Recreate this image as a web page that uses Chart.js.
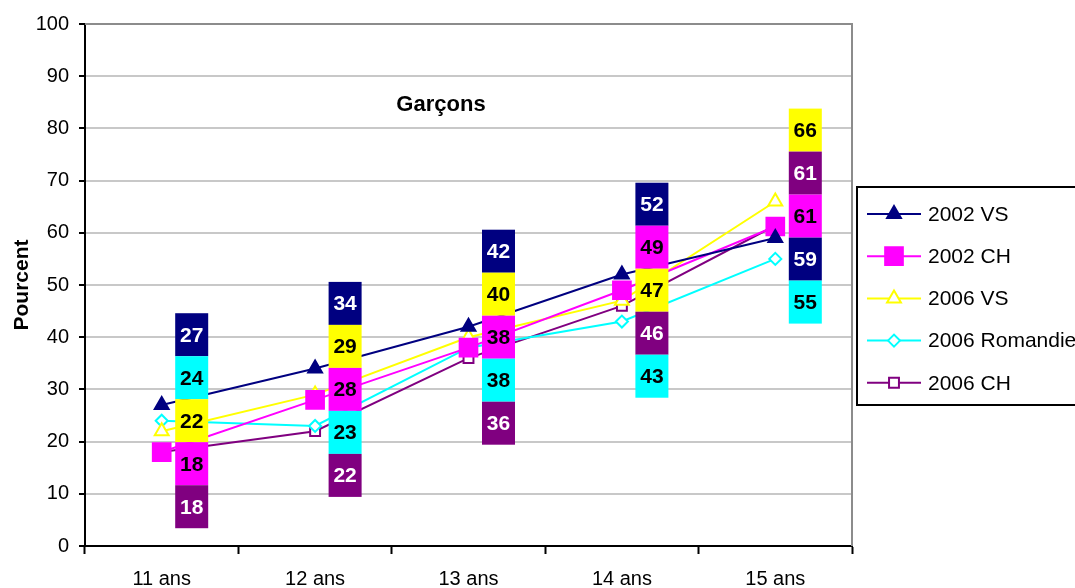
<!DOCTYPE html>
<html>
<head>
<meta charset="utf-8">
<script src="https://cdn.jsdelivr.net/npm/chart.js@4"></script>
<style>
  body { margin: 0; background: #fff; }
  #wrap { width: 1075px; height: 588px; }
</style>
</head>
<body>
<div id="wrap"><canvas id="chart"></canvas></div>
<script>
const ages = ["11 ans", "12 ans", "13 ans", "14 ans", "15 ans"];
const seriesNames = ["2002 VS", "2002 CH", "2006 VS", "2006 Romandie", "2006 CH"];
const vs2002 = [27, 34, 42, 52, 59];
const ch2002 = [18, 28, 38, 49, 61.2];
const vs2006 = [22, 29, 40, 47, 66];
const romandie2006 = [24, 23, 38, 43, 55];
const ch2006 = [18, 22, 36, 46, 61.4];
const yTicks = [0, 10, 20, 30, 40, 50, 60, 70, 80, 90, 100];

const FONT = "'Liberation Sans', Arial, sans-serif";

const looks = [
    {color: "#000080", fill: "#000080", style: "triangle", radius: 8, text: "#fff"},
    {color: "#FF00FF", fill: "#FF00FF", style: "rect", radius: 12.5, text: "#000"},
    {color: "#FFFF00", fill: "#fff", style: "triangle", radius: 8, text: "#000"},
    {color: "#00FFFF", fill: "#fff", style: "rectRot", radius: 6, text: "#000"},
    {color: "#800080", fill: "#fff", style: "rect", radius: 7, text: "#fff"}
];

const allSeries = [vs2002, ch2002, vs2006, romandie2006, ch2006];

const datasets = allSeries.map((data, i) => ({
    label: seriesNames[i],
    data: data,
    borderColor: looks[i].color,
    backgroundColor: looks[i].fill,
    borderWidth: 2,
    pointStyle: looks[i].style,
    pointRadius: looks[i].radius,
    pointBorderWidth: 2,
    pointBorderColor: looks[i].color,
    pointBackgroundColor: looks[i].fill,
    tension: 0
}));

// frame on top/right, title, value boxes and legend
const decor = {
    id: "decor",
    beforeDatasetsDraw(chart) {
        const {ctx, chartArea: a} = chart;
        ctx.save();
        ctx.strokeStyle = "#8c8c8c";
        ctx.lineWidth = 2;
        ctx.beginPath();
        ctx.moveTo(a.left, a.top);
        ctx.lineTo(a.right, a.top);
        ctx.lineTo(a.right, a.bottom);
        ctx.stroke();
        ctx.restore();
    },
    afterDatasetsDraw(chart) {
        const {ctx, chartArea: a} = chart;
        const xs = chart.scales.x, ys = chart.scales.y;
        ctx.save();
        ctx.font = "bold 22px " + FONT;
        ctx.fillStyle = "#000";
        ctx.textAlign = "center";
        ctx.textBaseline = "middle";
        ctx.fillText("Garçons", a.left + 356, a.top + 81);

        const boxW = 33, boxH = 43;
        ctx.font = "bold 21px " + FONT;
        ages.forEach((_, i) => {
            const items = allSeries.map((s, k) => ({k, v: s[i]}))
                .sort((p, q) => q.v - p.v);
            const mid = items[2].v;
            const cy = ys.getPixelForValue(mid + 2);
            const cx = xs.getPixelForValue(i) + 30;
            items.forEach((it, j) => {
                const top = cy - 2.5 * boxH + j * boxH;
                ctx.fillStyle = looks[it.k].color;
                ctx.fillRect(cx - boxW / 2, top, boxW, boxH);
                ctx.fillStyle = looks[it.k].text;
                ctx.fillText(String(Math.round(it.v)), cx, top + boxH / 2 + 1);
            });
        });
        ctx.restore();
    },
    afterDraw(chart) {
        const ctx = chart.ctx;
        ctx.save();
        ctx.strokeStyle = "#000";
        ctx.lineWidth = 2;
        ctx.strokeRect(857, 187, 240, 218);
        ctx.font = "21px " + FONT;
        ctx.textAlign = "left";
        ctx.textBaseline = "middle";
        seriesNames.forEach((name, i) => {
            const y = 214 + i * 42.2;
            const lk = looks[i];
            ctx.strokeStyle = lk.color;
            ctx.lineWidth = 2;
            ctx.beginPath();
            ctx.moveTo(867, y);
            ctx.lineTo(921, y);
            ctx.stroke();
            ctx.fillStyle = lk.fill;
            Chart.helpers.drawPoint(ctx, {pointStyle: lk.style, radius: lk.radius, rotation: 0, borderWidth: 2}, 894, y);
            ctx.fillStyle = "#000";
            ctx.fillText(name, 928, y + 1);
        });
        ctx.restore();
    }
};

new Chart(document.getElementById("chart"), {
    type: "line",
    data: {labels: ages, datasets: datasets},
    options: {
        responsive: true,
        maintainAspectRatio: false,
        animation: false,
        layout: {padding: {left: 10, right: 223, top: 24, bottom: 0}},
        plugins: {legend: {display: false}, tooltip: {enabled: false}},
        scales: {
            x: {
                offset: true,
                grid: {offset: true, drawOnChartArea: false, tickLength: 8, tickColor: "#000", tickWidth: 2},
                border: {color: "#000", width: 2},
                ticks: {color: "#000", font: {family: FONT, size: 20}, padding: 13, maxRotation: 0},
                afterFit: s => { s.height = 42; }
            },
            y: {
                min: 0,
                max: 100,
                afterBuildTicks: s => { s.ticks = yTicks.map(v => ({value: v})); },
                grid: {color: "#c8c8c8", lineWidth: 2, tickLength: 6, tickColor: "#000", tickWidth: 2},
                border: {color: "#000", width: 2},
                ticks: {color: "#000", font: {family: FONT, size: 20}, padding: 10},
                title: {display: true, text: "Pourcent", color: "#000", font: {family: FONT, size: 21, weight: "bold"}, padding: {top: 0, bottom: 0}},
                afterFit: s => { s.width = 75; }
            }
        }
    },
    plugins: [decor]
});
</script>
</body>
</html>
